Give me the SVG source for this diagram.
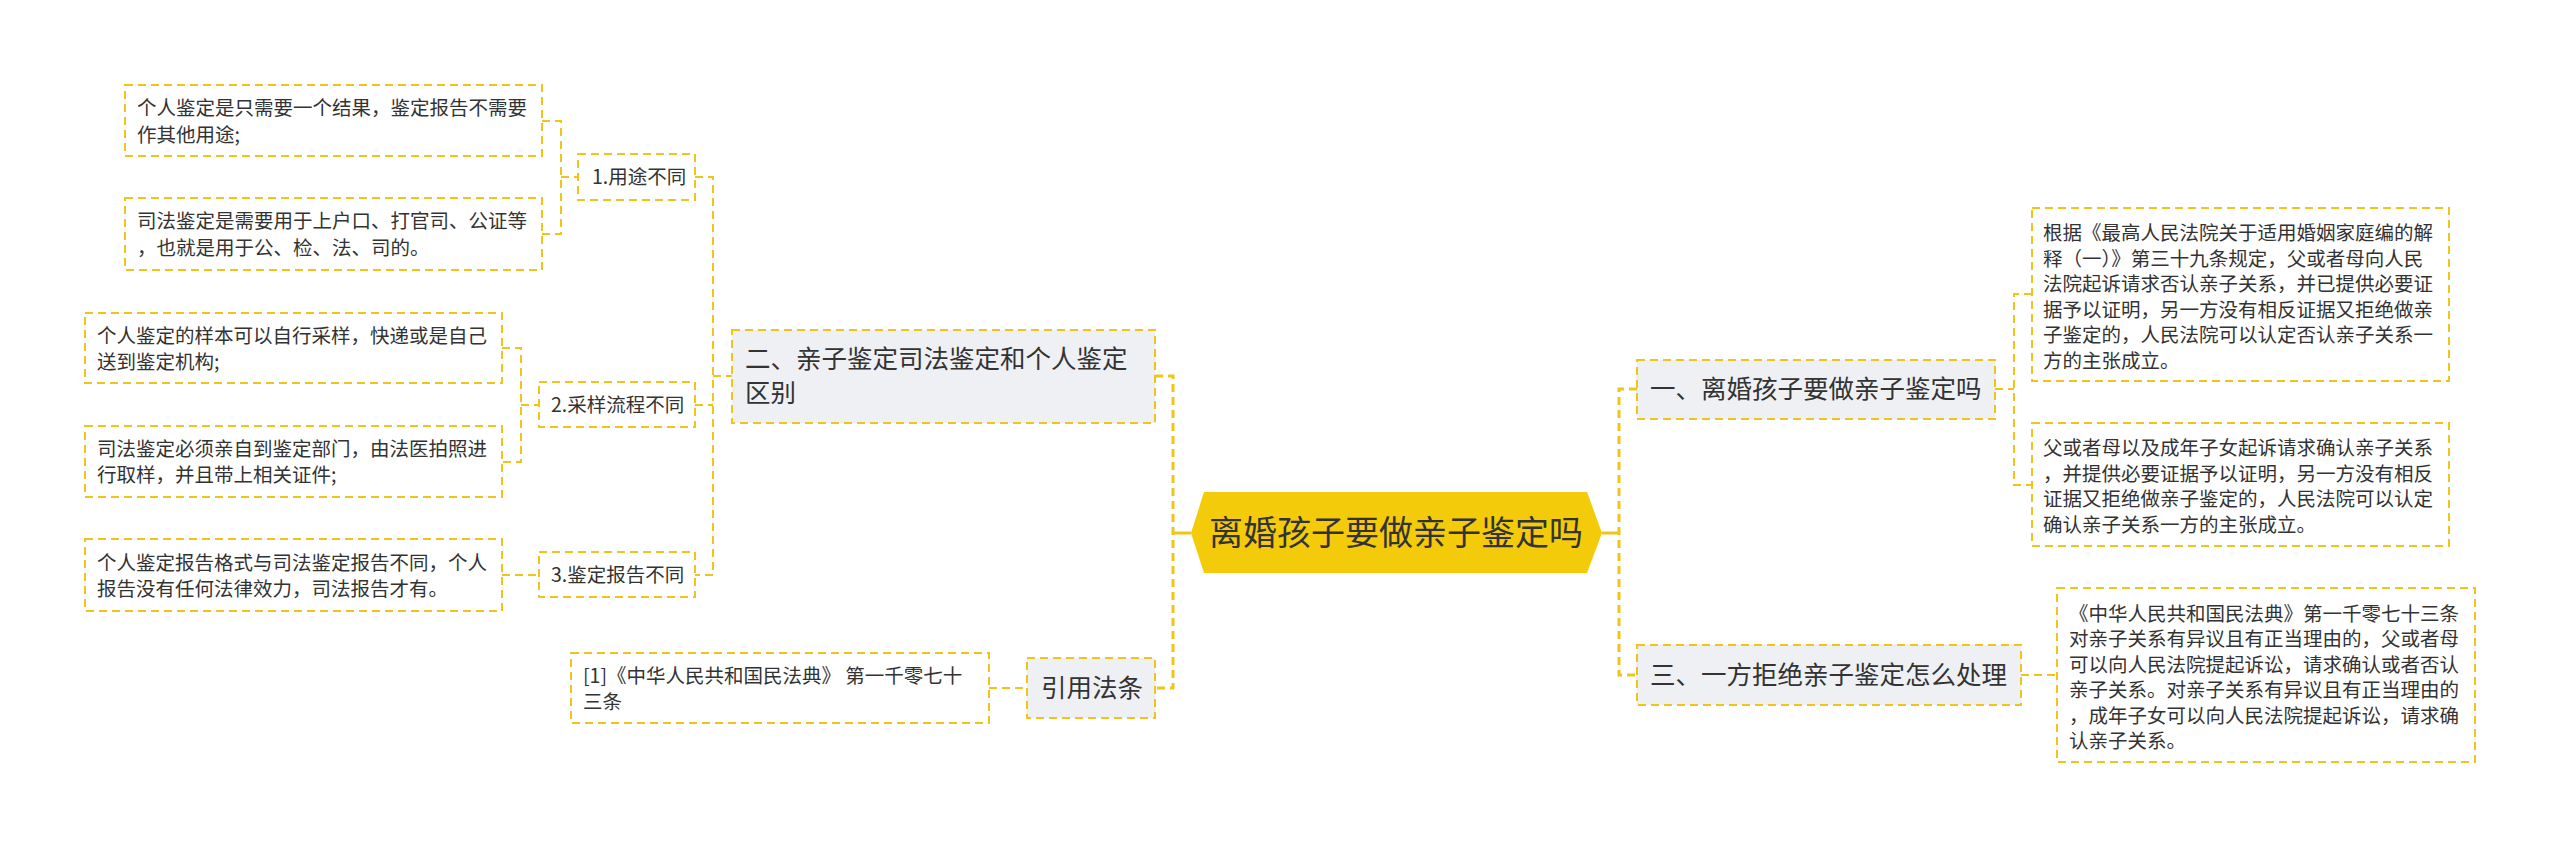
<svg xmlns="http://www.w3.org/2000/svg" width="2560" height="847" viewBox="0 0 2560 847">
<style>
.box{fill:#FFFFFF;stroke:#F0C419;stroke-width:2;stroke-dasharray:8 5}
.sec{fill:#EEF0F3;stroke:#F0C419;stroke-width:2;stroke-dasharray:8 5}
.t{font-family:"Noto Sans CJK SC","Noto Sans",sans-serif;fill:#333333}
.lf{font-size:19.5px}
.st{font-size:25.5px}
.ct{font-size:34px}
.conn{fill:none;stroke:#F0C419;stroke-width:2;stroke-dasharray:8 5}
.main{fill:none;stroke:#F0C419;stroke-width:3;stroke-dasharray:8 5}
.solid{fill:none;stroke:#F0C419;stroke-width:3}
</style>
<rect width="2560" height="847" fill="#FFFFFF"/>
<g id="connectors">
<path class="conn" d="M542,121 H561 V234 H542 M561,177 H578"/>
<path class="conn" d="M502,348 H521 V462 H502 M521,405 H539"/>
<path class="conn" d="M502,575 H539"/>
<path class="conn" d="M695,177 H713 V575 H695 M695,405 H713 M713,376 H732"/>
<path class="solid" d="M1191,533 H1173"/>
<path class="main" d="M1155,376 H1173 V688 H1155"/>
<path class="conn" d="M989,688 H1027"/>
<path class="solid" d="M1602,533 H1619"/>
<path class="main" d="M1637,389 H1619 V675 H1637"/>
<path class="conn" d="M1995,389 H2014 M2032,294 H2014 V485 H2032"/>
<path class="conn" d="M2021,675 H2057"/>
</g>
<g id="center">
<polygon points="1204,492 1587,492 1602,533 1587,573 1204,573 1191,533" fill="#F4CB0B"/>
<text class="t ct" x="1396" y="545" text-anchor="middle">离婚孩子要做亲子鉴定吗</text>
</g>
<g id="sec2">
<rect class="sec" x="732" y="330" width="423" height="93"/>
<text class="t st" x="745" y="368">二、亲子鉴定司法鉴定和个人鉴定</text>
<text class="t st" x="745" y="402">区别</text>
</g>
<g id="n1">
<rect class="box" x="578" y="154" width="117" height="46"/>
<text class="t lf" x="592" y="184">1.用途不同</text>
</g>
<g id="n2">
<rect class="box" x="539" y="382" width="156" height="45"/>
<text class="t lf" x="551" y="412">2.采样流程不同</text>
</g>
<g id="n3">
<rect class="box" x="539" y="552" width="156" height="45"/>
<text class="t lf" x="551" y="582">3.鉴定报告不同</text>
</g>
<g id="leaf1">
<rect class="box" x="125" y="85" width="417" height="71"/>
<text class="t lf" x="137" y="115">个人鉴定是只需要一个结果，鉴定报告不需要</text>
<text class="t lf" x="137" y="142">作其他用途;</text>
</g>
<g id="leaf2">
<rect class="box" x="125" y="198" width="417" height="72"/>
<text class="t lf" x="137" y="228">司法鉴定是需要用于上户口、打官司、公证等</text>
<text class="t lf" x="137" y="255">，也就是用于公、检、法、司的。</text>
</g>
<g id="leaf3">
<rect class="box" x="85" y="313" width="417" height="70"/>
<text class="t lf" x="97" y="343">个人鉴定的样本可以自行采样，快递或是自己</text>
<text class="t lf" x="97" y="369">送到鉴定机构;</text>
</g>
<g id="leaf4">
<rect class="box" x="85" y="426" width="417" height="71"/>
<text class="t lf" x="97" y="456">司法鉴定必须亲自到鉴定部门，由法医拍照进</text>
<text class="t lf" x="97" y="482">行取样，并且带上相关证件;</text>
</g>
<g id="leaf5">
<rect class="box" x="85" y="539" width="417" height="72"/>
<text class="t lf" x="97" y="570">个人鉴定报告格式与司法鉴定报告不同，个人</text>
<text class="t lf" x="97" y="596">报告没有任何法律效力，司法报告才有。</text>
</g>
<g id="cite">
<rect class="sec" x="1027" y="658" width="128" height="60"/>
<text class="t st" x="1041" y="697">引用法条</text>
</g>
<g id="citeleaf">
<rect class="box" x="571" y="653" width="418" height="70"/>
<text class="t lf" x="583" y="683">[1]《中华人民共和国民法典》 第一千零七十</text>
<text class="t lf" x="583" y="709">三条</text>
</g>
<g id="sec1">
<rect class="sec" x="1637" y="360" width="358" height="59"/>
<text class="t st" x="1650" y="398">一、离婚孩子要做亲子鉴定吗</text>
</g>
<g id="sec3">
<rect class="sec" x="1637" y="645" width="384" height="60"/>
<text class="t st" x="1650" y="684">三、一方拒绝亲子鉴定怎么处理</text>
</g>
<g id="r1">
<rect class="box" x="2032" y="208" width="417" height="173"/>
<text class="t lf" x="2043" y="240">根据《最高人民法院关于适用婚姻家庭编的解</text>
<text class="t lf" x="2043" y="266">释（一）》第三十九条规定，父或者母向人民</text>
<text class="t lf" x="2043" y="291">法院起诉请求否认亲子关系，并已提供必要证</text>
<text class="t lf" x="2043" y="317">据予以证明，另一方没有相反证据又拒绝做亲</text>
<text class="t lf" x="2043" y="342">子鉴定的，人民法院可以认定否认亲子关系一</text>
<text class="t lf" x="2043" y="368">方的主张成立。</text>
</g>
<g id="r2">
<rect class="box" x="2032" y="423" width="417" height="123"/>
<text class="t lf" x="2043" y="455">父或者母以及成年子女起诉请求确认亲子关系</text>
<text class="t lf" x="2043" y="481">，并提供必要证据予以证明，另一方没有相反</text>
<text class="t lf" x="2043" y="506">证据又拒绝做亲子鉴定的，人民法院可以认定</text>
<text class="t lf" x="2043" y="532">确认亲子关系一方的主张成立。</text>
</g>
<g id="r3">
<rect class="box" x="2057" y="588" width="418" height="174"/>
<text class="t lf" x="2069" y="621">《中华人民共和国民法典》第一千零七十三条</text>
<text class="t lf" x="2069" y="646">对亲子关系有异议且有正当理由的，父或者母</text>
<text class="t lf" x="2069" y="672">可以向人民法院提起诉讼，请求确认或者否认</text>
<text class="t lf" x="2069" y="697">亲子关系。对亲子关系有异议且有正当理由的</text>
<text class="t lf" x="2069" y="723">，成年子女可以向人民法院提起诉讼，请求确</text>
<text class="t lf" x="2069" y="748">认亲子关系。</text>
</g>
</svg>
